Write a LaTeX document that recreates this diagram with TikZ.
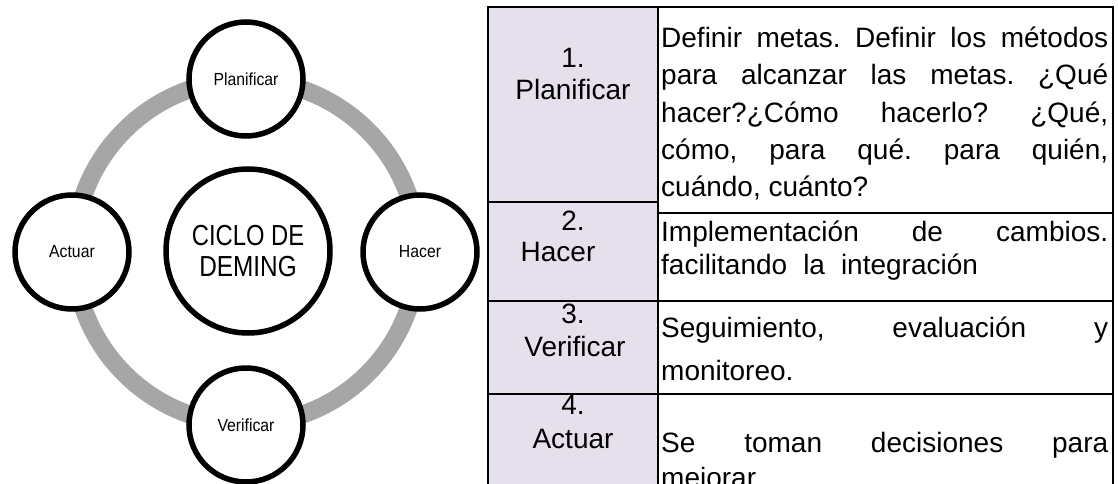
\documentclass[tikz,border=0pt]{standalone}
\usepackage{fontspec}
\setmainfont{Liberation Sans}
\usepackage{graphicx}
\definecolor{ringgrey}{HTML}{A6A6A6}
\definecolor{lav}{HTML}{E5E0EC}
\begin{document}
\begin{tikzpicture}[x=1pt,y=-1pt,
  phase/.style={circle,draw=black,line width=5.5pt,fill=white,minimum size=114pt,inner sep=0pt,
    font=\fontsize{17.5}{20}\selectfont},
  hub/.style={circle,draw=black,line width=5.5pt,fill=white,minimum size=164pt,inner sep=0pt,
    align=center,font=\fontsize{29}{30}\selectfont},
  tline/.style={line width=2pt,black},
  ctext/.style={anchor=base,inner sep=0pt,font=\fontsize{28}{32}\selectfont},
  rtext/.style={anchor=base west,inner sep=0pt,font=\fontsize{28}{32}\selectfont}]
\useasboundingbox (0,0) rectangle (1118,484);
% ring
\draw[line width=18pt,ringgrey] (246,252) circle[radius=172pt];
% circles
\node[hub] (hub) at (248,251) {\scalebox{0.82}[1]{CICLO DE}\\[1pt]\scalebox{0.84}[1]{DEMING}};
\node[phase] (plan) at (246,79) {\scalebox{0.9}[1]{Planificar}};
\node[phase] (hacer) at (420,252) {\scalebox{0.9}[1]{Hacer}};
\node[phase] (verif) at (246,425) {\scalebox{0.9}[1]{Verificar}};
\node[phase] (actuar) at (72,252) {\scalebox{0.9}[1]{Actuar}};
% table
\fill[lav] (488,7) rectangle (658,490);
\draw[tline] (487.5,490) -- (487.5,7) -- (1112.5,7) -- (1112.5,490);
\draw[tline] (658,7) -- (658,490);
\draw[tline] (487.5,202) -- (658,202);
\draw[tline] (658,213) -- (1112.5,213);
\draw[tline] (487.5,301) -- (1112.5,301);
\draw[tline] (487.5,394) -- (1112.5,394);
% left column
\node[ctext] (n1) at (573,68) {1.};
\node[ctext] (l1) at (573,100) {Planificar};
\node[ctext] (n2) at (573,230) {2.};
\node[ctext] (l2) at (558,261) {Hacer};
\node[ctext] (n3) at (573,323) {3.};
\node[ctext] (l3) at (575,356) {Verificar};
\node[ctext] (n4) at (573,414) {4.};
\node[ctext] (l4) at (573,448) {Actuar};
% right column
\node[rtext] (a1) at (661,48) {\hbox to 447pt{Definir\hfill metas.\hfill Definir\hfill los\hfill métodos}};
\node[rtext] (a2) at (661,85) {\hbox to 447pt{para\hfill alcanzar\hfill las\hfill metas.\hfill ¿Qué}};
\node[rtext] (a3) at (661,122) {\hbox to 447pt{hacer?¿Cómo\hfill hacerlo?\hfill ¿Qué,}};
\node[rtext] (a4) at (661,159) {\hbox to 447pt{cómo,\hfill para\hfill qué.\hfill para\hfill quién,}};
\node[rtext] (a5) at (661,196) {cuándo, cuánto?};
\node[rtext] (b1) at (661,241) {\hbox to 447pt{Implementación\hfill de\hfill cambios.}};
\node[rtext] (b2) at (661,274) {facilitando\hspace{16pt}la\hspace{16pt}integración};
\node[rtext] (c1) at (661,337) {\hbox to 447pt{Seguimiento,\hfill evaluación\hfill y}};
\node[rtext] (c2) at (661,380) {monitoreo.};
\node[rtext] (d1) at (661,452) {\hbox to 447pt{Se\hfill toman\hfill decisiones\hfill para}};
\node[rtext] (d2) at (661,487) {mejorar.};
\end{tikzpicture}
\end{document}
